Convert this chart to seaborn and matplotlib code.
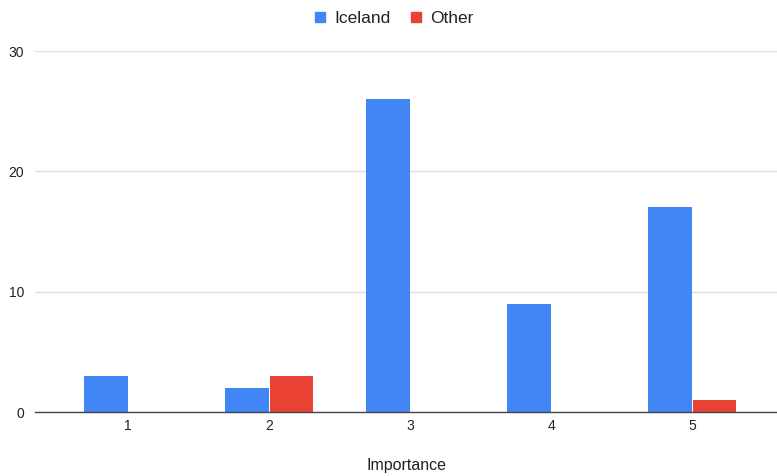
import matplotlib
matplotlib.use("Agg")
import matplotlib.pyplot as plt
from matplotlib.lines import Line2D
import seaborn as sns
import pandas as pd

# Importance ratings (1-5) by respondent origin
categories = ["1", "2", "3", "4", "5"]
iceland = [3, 2, 26, 9, 17]
other = [0, 3, 0, 0, 1]
series_names = ["Iceland", "Other"]
colors = ["#4285F4", "#EA4335"]

df = pd.DataFrame({
    "Importance": categories * 2,
    "Count": iceland + other,
    "Group": [series_names[0]] * len(categories) + [series_names[1]] * len(categories),
})

sns.set_theme(style="white")
plt.rcParams["font.family"] = ["Liberation Sans", "DejaVu Sans"]

fig = plt.figure(figsize=(7.77, 4.76), dpi=100)
ax = fig.add_axes([35 / 777, 64 / 476, 742 / 777, 361 / 476])

sns.barplot(data=df, x="Importance", y="Count", hue="Group",
            palette=colors, width=0.63, gap=0.02, saturation=1,
            linewidth=0, legend=False, ax=ax)

ax.set_ylim(0, 30)
ax.set_xlim(-0.66, 4.6)
ax.set_yticks([0, 10, 20, 30])
ax.yaxis.grid(True, color="#e0e0e0", linewidth=1)
ax.set_axisbelow(True)
for side in ["top", "right", "left"]:
    ax.spines[side].set_visible(False)
ax.spines["bottom"].set_color("#444444")
ax.spines["bottom"].set_linewidth(1)
ax.tick_params(axis="both", length=0, labelsize=10, colors="#222222")
ax.tick_params(axis="y", pad=8)
ax.tick_params(axis="x", pad=5)
ax.set_ylabel("")
ax.set_xlabel("Importance", fontsize=11.5, color="#222222", labelpad=18)

handles = [Line2D([0], [0], marker="s", linestyle="", markersize=7.5,
                  markerfacecolor=c, markeredgecolor=c) for c in colors]
fig.legend(handles, series_names, loc="upper center", ncol=2,
           bbox_to_anchor=(0.505, 1.009), frameon=False, fontsize=12.5,
           handlelength=1.0, handletextpad=0.3, columnspacing=1.0,
           labelcolor="#222222")

fig.savefig("out.png", dpi=100)
